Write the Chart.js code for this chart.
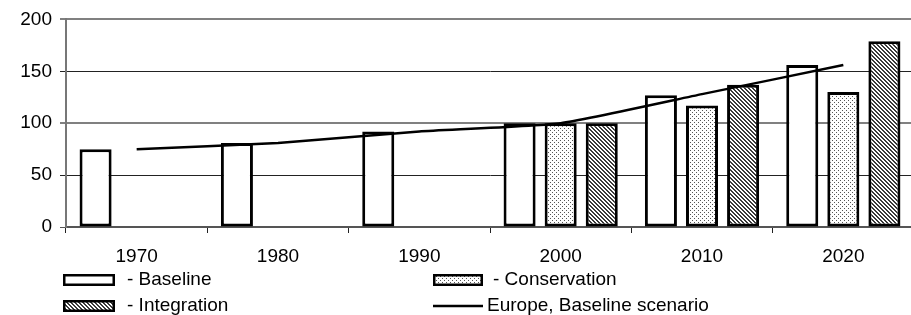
<!DOCTYPE html>
<html>
<head>
<meta charset="utf-8">
<script src="https://cdn.jsdelivr.net/npm/chart.js@4/dist/chart.umd.min.js"></script>
<style>
html,body{margin:0;padding:0;background:#fff;overflow:hidden;}
#wrap{width:914px;height:315px;position:relative;}
</style>
</head>
<body>
<div id="wrap"><canvas id="c"></canvas></div>
<script>
const categories = ['1970','1980','1990','2000','2010','2020'];
const baseline = [75, 81, 92, 100, 127, 156];
const conservation = [null, null, null, 100, 117, 130];
const integration = [null, null, null, 100, 137, 179];
const europeBaseline = [75, 81, 92, 100, 128, 156];
const yTicks = [0, 50, 100, 150, 200];
const legendLabels = ['- Baseline', '- Conservation', '- Integration', 'Europe, Baseline scenario'];

const FONT = "'Liberation Sans', Arial, sans-serif";

function dotPattern(){
  const c = document.createElement('canvas'); c.width = 4; c.height = 4;
  const g = c.getContext('2d');
  g.fillStyle = '#fff'; g.fillRect(0,0,4,4);
  g.fillStyle = '#555'; g.fillRect(0,0,1,1); g.fillRect(2,2,1,1);
  return g.createPattern(c,'repeat');
}
function hatchPattern(){
  const c = document.createElement('canvas'); c.width = 4; c.height = 4;
  const g = c.getContext('2d');
  g.fillStyle = '#fff'; g.fillRect(0,0,4,4);
  g.fillStyle = '#3a3a3a';
  for (let i=0;i<4;i++){ g.fillRect(i,i,1,1); g.fillRect((i+1)%4,i,1,1); }
  return g.createPattern(c,'repeat');
}
const dots = dotPattern();
const hatch = hatchPattern();

const legendPlugin = {
  id:'customLegend',
  afterDraw(chart){
    const ctx = chart.ctx;
    const L = chart.chartArea.left;
    ctx.save();
    ctx.font = '19px ' + FONT;
    ctx.fillStyle = '#000';
    ctx.textBaseline = 'middle';
    ctx.textAlign = 'left';
    const items = [
      {x: L-3, y: 280, fill:'#fff', w:52, text: legendLabels[0], tx: L+61},
      {x: L+367, y: 280, fill: dots, w:50, text: legendLabels[1], tx: L+427},
      {x: L-3, y: 306, fill: hatch, w:52, text: legendLabels[2], tx: L+61},
    ];
    items.forEach(it=>{
      ctx.fillStyle = it.fill;
      ctx.fillRect(it.x, it.y-6, it.w, 12);
      ctx.strokeStyle = '#000'; ctx.lineWidth = 2.5;
      ctx.strokeRect(it.x+1.25, it.y-4.75, it.w-2.5, 9.5);
      ctx.fillStyle = '#000';
      ctx.fillText(it.text, it.tx, it.y);
    });
    ctx.strokeStyle = '#000'; ctx.lineWidth = 2.5;
    ctx.beginPath(); ctx.moveTo(L+367, 306); ctx.lineTo(L+417, 306); ctx.stroke();
    ctx.fillText(legendLabels[3], L+421, 306);
    ctx.restore();
  }
};

new Chart(document.getElementById('c'), {
  data: {
    labels: categories,
    datasets: [
      {type:'line', label:'Europe, Baseline scenario', data: europeBaseline, borderColor:'#000', borderWidth:2.5, pointRadius:0, tension:0.15, fill:false, order:0},
      {type:'bar', label:'Baseline', data: baseline, backgroundColor:'#fff', borderColor:'#000', borderWidth:3, borderSkipped:false, order:1},
      {type:'bar', label:'Conservation', data: conservation, backgroundColor: dots, borderColor:'#000', borderWidth:3, borderSkipped:false, order:1},
      {type:'bar', label:'Integration', data: integration, backgroundColor: hatch, borderColor:'#000', borderWidth:3, borderSkipped:false, order:1}
    ]
  },
  options: {
    responsive:true, maintainAspectRatio:false, animation:false,
    datasets:{ bar:{ categoryPercentage:0.872, barPercentage:0.78 } },
    layout:{ padding:{ top:12, right:0, bottom:43, left:0 } },
    plugins:{ legend:{display:false}, tooltip:{enabled:false} },
    scales:{
      x:{
        offset:true,
        grid:{ offset:true, drawOnChartArea:false, drawTicks:true, tickLength:6, color:'#222', lineWidth:1 },
        border:{ display:true, color:'#555', width:2 },
        ticks:{ font:{family:FONT, size:19}, color:'#000', padding:12, maxRotation:0 },
        afterFit(s){ s.height = 45; }
      },
      y:{
        min:0, max:200,
        afterBuildTicks(s){ s.ticks = yTicks.map(v=>({value:v})); },
        grid:{
          drawTicks:true, tickLength:6,
          color(ctx){ const v = ctx.tick && ctx.tick.value; return (v===200||v===100)?'#808080':(v===0?'#555':'#222'); },
          lineWidth(ctx){ const v = ctx.tick && ctx.tick.value; return (v===200||v===100)?2:1; }
        },
        border:{ display:true, color:'#777', width:2 },
        ticks:{ font:{family:FONT, size:19}, color:'#000', padding:8 },
        afterFit(s){ s.width = 66; }
      }
    }
  },
  plugins:[legendPlugin]
});
</script>
</body>
</html>
